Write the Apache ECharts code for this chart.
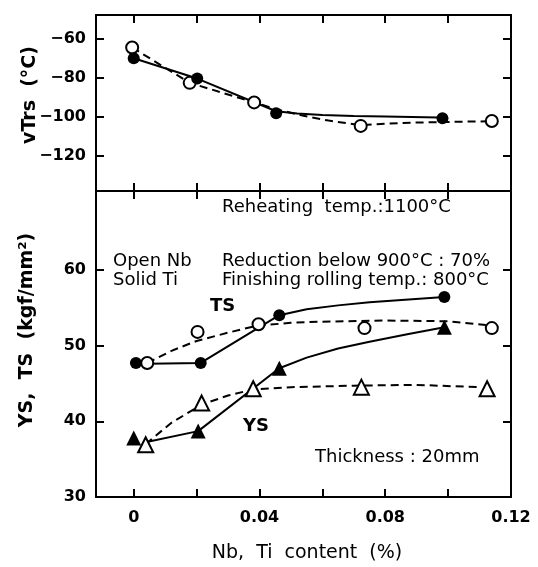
<!DOCTYPE html>
<html>
<head>
<meta charset="utf-8">
<script src="https://cdn.jsdelivr.net/npm/echarts@6/dist/echarts.min.js"></script>
<style>
    html, body { margin: 0; padding: 0; background: #fff; }
    #chart { width: 538px; height: 567px; }
</style>
</head>
<body>
<div id="chart"></div>
<script>
// x axis (Nb, Ti content %)
const xTicks = [0, 0.02, 0.04, 0.06, 0.08, 0.1, 0.12];
const xLabels = [0, 0.04, 0.08, 0.12];
// top panel: vTrs (°C)
const vtrsTicks = [-120, -100, -80, -60];
const vtrsNbPts = [[-0.0005, -64.6], [0.0178, -82.7], [0.0383, -92.7], [0.0722, -104.7], [0.1139, -102.2]];
const vtrsTiPts = [[0, -70.1], [0.0202, -80.5], [0.0453, -98.3], [0.0982, -100.8]];
const vtrsNbCurve = [[-0.0005, -64.6], [0.0178, -82.7], [0.0383, -92.7], [0.046, -96.5], [0.054, -99.5], [0.062, -102], [0.072, -104.3], [0.08, -103.6], [0.09, -103], [0.1, -102.7], [0.1139, -102.3]];
const vtrsTiCurve = [[0, -70.1], [0.0202, -80.5], [0.0453, -97.2], [0.052, -98.4], [0.06, -99.1], [0.07, -99.6], [0.08, -99.9], [0.097, -100.4]];
// bottom panel: YS, TS (kgf/mm2)
const strTicks = [30, 40, 50, 60];
const tsNbPts = [[0.0043, 47.7], [0.0203, 51.8], [0.0397, 52.8], [0.0734, 52.3], [0.1139, 52.3]];
const tsTiPts = [[0.0007, 47.7], [0.0213, 47.7], [0.0463, 54.0], [0.0988, 56.4]];
const tsNbCurve = [[0.0043, 47.7], [0.012, 49.3], [0.02, 50.6], [0.03, 51.7], [0.039, 52.6], [0.05, 53], [0.06, 53.15], [0.08, 53.3], [0.1, 53.2], [0.112, 52.7]];
const tsTiCurve = [[0.0043, 47.6], [0.0213, 47.7], [0.0463, 54.0], [0.055, 54.8], [0.065, 55.3], [0.075, 55.7], [0.0988, 56.4]];
const ysNbPts = [[0.0038, 36.9], [0.0216, 42.4], [0.038, 44.3], [0.0724, 44.5], [0.1124, 44.3]];
const ysTiPts = [[0, 37.8], [0.0205, 38.7], [0.0463, 47.0], [0.0988, 52.4]];
const ysNbCurve = [[0.0038, 37], [0.012, 39.8], [0.0216, 42.2], [0.03, 43.4], [0.038, 44.2], [0.05, 44.5], [0.07, 44.7], [0.09, 44.8], [0.11, 44.5]];
const ysTiCurve = [[0.0045, 37.3], [0.0205, 38.7], [0.0463, 47.0], [0.055, 48.4], [0.065, 49.6], [0.075, 50.5], [0.087, 51.5], [0.0988, 52.4]];

const chart = echarts.init(document.getElementById('chart'));

const font = 'DejaVu Sans';

// shared axis look: black frame, short ticks pointing inward
function frameAxis(extra) {
    return Object.assign({
        type: 'value',
        axisLine: { show: true, onZero: false, lineStyle: { color: '#000', width: 2 } },
        axisLabel: { show: false },
        splitLine: { show: false }
    }, extra);
}

function tickStyle(values) {
    return { show: true, inside: true, length: 8, customValues: values, lineStyle: { color: '#000', width: 2 } };
}

function xAxisFor(grid, pos, showLabel) {
    return frameAxis({
        gridIndex: grid,
        position: pos,
        min: -0.012,
        max: 0.12,
        axisTick: tickStyle(xTicks),
        axisLabel: {
            show: showLabel,
            customValues: xLabels,
            margin: 13,
            fontFamily: font,
            fontWeight: 'bold',
            fontSize: 16,
            color: '#000',
            formatter: v => (v === 0 ? '0' : v.toFixed(2))
        }
    });
}

function yAxisFor(grid, pos, min, max, ticks, showLabel) {
    return frameAxis({
        gridIndex: grid,
        position: pos,
        min: min,
        max: max,
        axisTick: tickStyle(ticks),
        axisLabel: {
            show: showLabel,
            customValues: ticks,
            margin: 10,
            fontFamily: font,
            fontWeight: 'bold',
            fontSize: 16,
            color: '#000',
            formatter: v => String(v).replace('-', '\u2212')
        }
    });
}

function curve(name, xi, yi, data, dashed) {
    return {
        name: name,
        type: 'line',
        xAxisIndex: xi,
        yAxisIndex: yi,
        data: data,
        smooth: false,
        showSymbol: false,
        silent: true,
        z: 2,
        lineStyle: { color: '#000', width: 2, type: dashed ? [8, 5] : 'solid' }
    };
}

function marks(name, xi, yi, data, symbol, filled) {
    return {
        name: name,
        type: 'scatter',
        xAxisIndex: xi,
        yAxisIndex: yi,
        data: data,
        symbol: symbol,
        symbolSize: symbol === 'triangle' ? 15 : 12,
        z: 5,
        itemStyle: filled
            ? { color: '#000', borderColor: '#000', borderWidth: 0, opacity: 1 }
            : { color: '#fff', borderColor: '#000', borderWidth: 2, opacity: 1 }
    };
}

function note(text, left, top, size, bold) {
    return {
        type: 'text', left: left, top: top,
        style: { text: text, fontFamily: font, fontSize: size, fontWeight: bold ? 'bold' : 'normal', fill: '#000' }
    };
}

const option = {
    animation: false,
    backgroundColor: '#fff',
    grid: [
        { left: 96, right: 27, top: 15, height: 176 },
        { left: 96, right: 27, top: 191, bottom: 70 }
    ],
    xAxis: [
        xAxisFor(0, 'bottom', false),
        xAxisFor(0, 'top', false),
        xAxisFor(1, 'bottom', true),
        xAxisFor(1, 'top', false)
    ],
    yAxis: [
        yAxisFor(0, 'left', -138, -48, vtrsTicks, true),
        yAxisFor(0, 'right', -138, -48, vtrsTicks, false),
        yAxisFor(1, 'left', 30, 70.4, strTicks, true),
        yAxisFor(1, 'right', 30, 70.4, strTicks, false)
    ],
    series: [
        curve('vTrs Nb', 0, 0, vtrsNbCurve, true),
        curve('vTrs Ti', 0, 0, vtrsTiCurve, false),
        marks('vTrs Nb', 0, 0, vtrsNbPts, 'circle', false),
        marks('vTrs Ti', 0, 0, vtrsTiPts, 'circle', true),
        curve('TS Nb', 2, 2, tsNbCurve, true),
        curve('TS Ti', 2, 2, tsTiCurve, false),
        curve('YS Nb', 2, 2, ysNbCurve, true),
        curve('YS Ti', 2, 2, ysTiCurve, false),
        marks('TS Nb', 2, 2, tsNbPts, 'circle', false),
        marks('TS Ti', 2, 2, tsTiPts, 'circle', true),
        marks('YS Nb', 2, 2, ysNbPts, 'triangle', false),
        marks('YS Ti', 2, 2, ysTiPts, 'triangle', true)
    ],
    graphic: [
        note('Reheating  temp.:1100°C', 222, 198, 18),
        note('Open Nb', 113, 252, 18),
        note('Reduction below 900°C : 70%', 222, 252, 18),
        note('Solid Ti', 113, 271, 18),
        note('Finishing rolling temp.: 800°C', 222, 271, 18),
        note('TS', 210, 297, 18, true),
        note('YS', 243, 417, 18, true),
        note('Thickness : 20mm', 315, 448, 18),
        {
            type: 'text', x: 30, y: 95, rotation: Math.PI / 2,
            style: { text: 'vTrs  (°C)', fontFamily: font, fontSize: 19, fontWeight: 'bold', fill: '#000', align: 'center', verticalAlign: 'middle' }
        },
        {
            type: 'text', x: 27, y: 330, rotation: Math.PI / 2,
            style: { text: 'YS,  TS  (kgf/mm²)', fontFamily: font, fontSize: 19, fontWeight: 'bold', fill: '#000', align: 'center', verticalAlign: 'middle' }
        },
        {
            type: 'text', x: 307, y: 553,
            style: { text: 'Nb,  Ti  content  (%)', fontFamily: font, fontSize: 19, fill: '#000', align: 'center', verticalAlign: 'middle' }
        }
    ]
};

chart.setOption(option);
</script>
</body>
</html>
